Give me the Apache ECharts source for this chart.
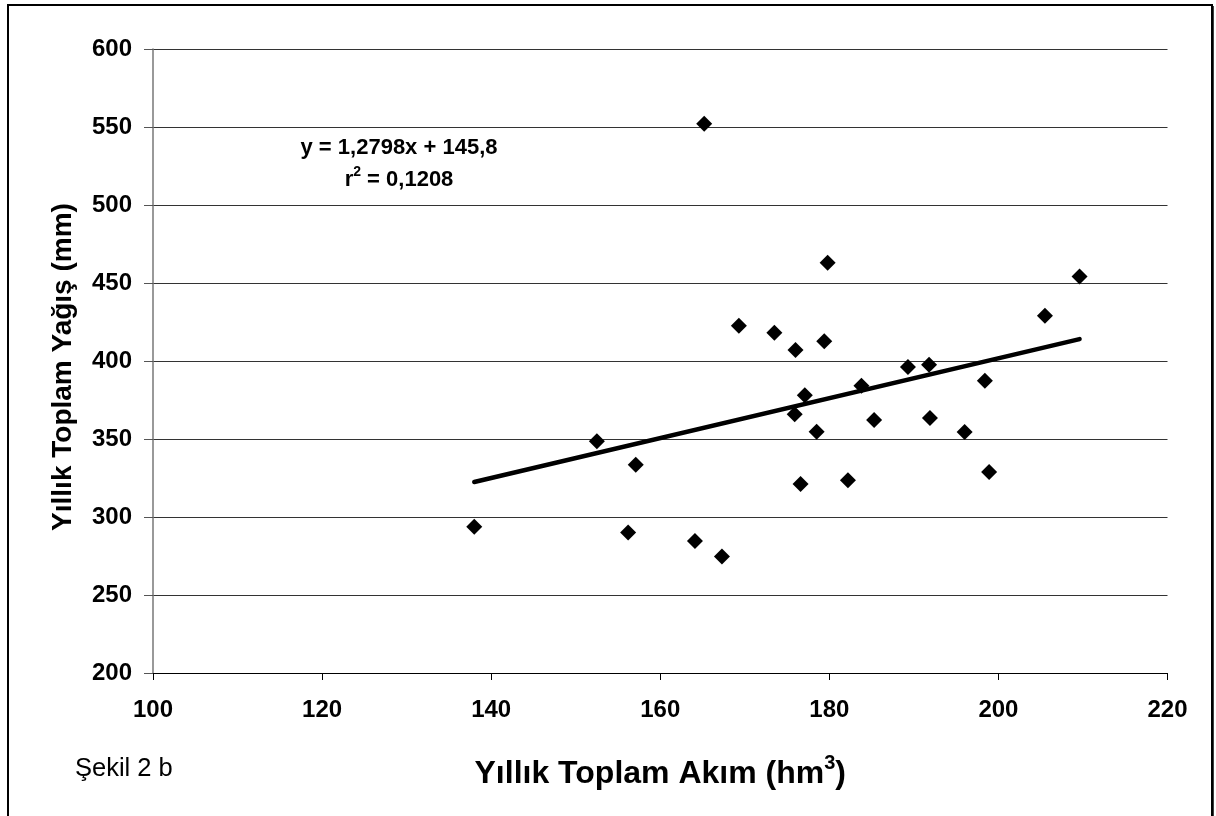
<!DOCTYPE html>
<html>
<head>
<meta charset="utf-8">
<script src="https://cdn.jsdelivr.net/npm/echarts@6/dist/echarts.min.js"></script>
<style>
html,body{margin:0;padding:0;background:#fff;}
#c{width:1216px;height:816px;}
</style>
</head>
<body>
<div id="c"></div>
<script>
// Yıllık Toplam Akım (hm³)
const akim = [138.0,152.5,156.2,157.1,164.1,165.2,167.3,169.3,173.5,176.0,175.9,176.6,177.1,178.5,179.4,179.8,182.2,183.8,185.3,189.3,191.8,191.9,196.0,198.4,198.9,205.5,209.6];
// Yıllık Toplam Yağış (mm)
const yagis = [293.8,348.5,290.1,333.5,284.6,552.1,274.7,422.6,418.1,407.0,365.8,321.2,378.1,354.7,412.7,463.0,323.5,384.2,362.2,396.2,397.6,363.5,354.5,387.4,328.8,429.0,454.2];
const trendSlope = 1.2798;
const trendIntercept = 145.8;
const xTicks = [100,120,140,160,180,200,220];
const yTicks = [200,250,300,350,400,450,500,550,600];

const FONT = '"Liberation Sans", Arial, sans-serif';
const pts = akim.map((x,i)=>[x, yagis[i]]);
const xMin = Math.min(...akim), xMax = Math.max(...akim);
const trend = [[xMin, trendSlope*xMin+trendIntercept],[xMax, trendSlope*xMax+trendIntercept]];

const chart = echarts.init(document.getElementById('c'), null, {renderer:'canvas'});
chart.setOption({
  backgroundColor:'#fff',
  animation:false,
  grid:{left:153, right:48.5, top:49, bottom:143, containLabel:false},
  xAxis:{
    type:'value', min:xTicks[0], max:xTicks[xTicks.length-1], interval:20,
    axisLine:{show:true, onZero:false, lineStyle:{color:'#000', width:1}},
    axisTick:{show:true, length:7, lineStyle:{color:'#000'}},
    splitLine:{show:false},
    axisLabel:{color:'#000', fontFamily:FONT, fontWeight:'bold', fontSize:24, margin:25},
    name:'{a|Yıllık Toplam Akım (hm}{s|3}{a|)}',
    nameLocation:'middle', nameGap:80,
    nameTextStyle:{rich:{
      a:{fontFamily:FONT, fontWeight:'bold', fontSize:32, color:'#000', lineHeight:42},
      s:{fontFamily:FONT, fontWeight:'bold', fontSize:20, color:'#000', verticalAlign:'top', lineHeight:20}
    }}
  },
  yAxis:{
    type:'value', min:yTicks[0], max:yTicks[yTicks.length-1], interval:50,
    axisLine:{show:true, onZero:false, lineStyle:{color:'#777', width:1.5}},
    axisTick:{show:true, length:9, lineStyle:{color:'#555'}},
    splitLine:{show:true, lineStyle:{color:'#333', width:1.2}},
    axisLabel:{color:'#000', fontFamily:FONT, fontWeight:'bold', fontSize:24, margin:21},
    name:'Yıllık Toplam Yağış (mm)',
    nameLocation:'middle', nameGap:76, nameRotate:90,
    nameTextStyle:{fontFamily:FONT, fontWeight:'bold', fontSize:28, color:'#000', padding:[0,12,0,0]}
  },
  series:[
    {
      type:'scatter', data:pts, symbol:'diamond', symbolSize:16,
      itemStyle:{color:'#000', opacity:1}, z:3
    },
    {
      type:'line', data:trend, showSymbol:false, symbol:'none',
      lineStyle:{color:'#000', width:4.5, cap:'round'}, z:2
    }
  ],
  graphic:[
    {type:'rect', shape:{x:8, y:5, width:1204, height:820}, style:{fill:'none', stroke:'#000', lineWidth:2}, z:-1},
    {type:'line', shape:{x1:1213, y1:6, x2:1213, y2:816}, style:{stroke:'#000', lineWidth:1.5}},
    {type:'text', left:75, top:756, style:{text:'Şekil 2 b', fontFamily:FONT, fontSize:25.5, fill:'#000'}},
    {type:'text', x:399, y:148, style:{text:'y = 1,2798x + 145,8', fontFamily:FONT, fontWeight:'bold', fontSize:22, fill:'#000', align:'center', verticalAlign:'middle'}},
    {type:'text', x:399, y:180, style:{
      text:'{a|r}{s|2}{a| = 0,1208}', align:'center', verticalAlign:'middle',
      rich:{
        a:{fontFamily:FONT, fontWeight:'bold', fontSize:22, fill:'#000', lineHeight:30},
        s:{fontFamily:FONT, fontWeight:'bold', fontSize:14, fill:'#000', verticalAlign:'top', lineHeight:14}
      }}}
  ]
});
</script>
</body>
</html>
